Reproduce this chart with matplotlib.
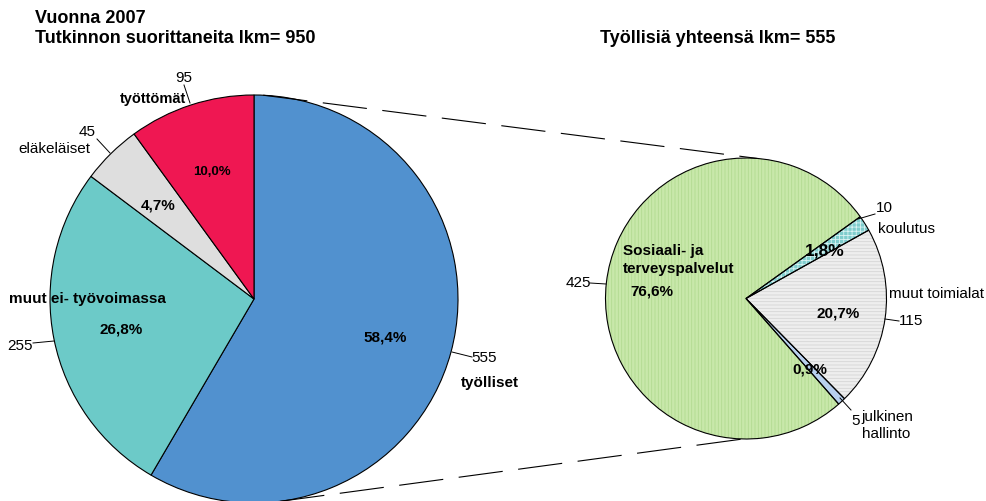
import numpy as np
import matplotlib
matplotlib.use('Agg')
import matplotlib.pyplot as plt

plt.rcParams['font.family'] = ['Liberation Sans', 'DejaVu Sans']
plt.rcParams['hatch.linewidth'] = 0.6

# left pie: all graduates
main_labels = ['työlliset', 'muut ei- työvoimassa', 'eläkeläiset', 'työttömät']
main_values = [555, 255, 45, 95]
main_colors = ['#5191CF', '#6CCAC8', '#DEDEDE', '#EF1752']

# right pie: employed by sector
sub_labels = ['koulutus', 'muut toimialat', 'julkinen\nhallinto', 'Sosiaali- ja\nterveyspalvelut']
sub_values = [10, 115, 5, 425]
sub_colors = ['#7FCDCD', '#EEEEEE', '#B8D0EE', '#C8E8AA']
sub_hatch_colors = ['#D8F2F2', '#D6D6D6', '#B8D0EE', '#B2DA92']
sub_hatches = ['++++', '-----', None, '|||||']

W, H = 987, 501


def py(y):
    # pixel row (from top) -> data y
    return H - y


def pct(v, total):
    return f"{v / total * 100:.1f}".replace('.', ',') + '%'


fig = plt.figure(figsize=(W / 100, H / 100), dpi=100)
ax = fig.add_axes([0, 0, 1, 1])

c1, r1 = (254, py(299)), 204
c2, r2 = (746, py(298.5)), 140.5

# left pie
ax.pie(main_values, colors=main_colors, startangle=90, counterclock=False,
       center=c1, radius=r1, wedgeprops=dict(edgecolor='black', linewidth=0.8))

# right pie: hatched fills, then outlines
wedges, _ = ax.pie(sub_values, colors=sub_colors, startangle=35.6, counterclock=False,
                   center=c2, radius=r2, wedgeprops=dict(linewidth=0))
for w, hc, h in zip(wedges, sub_hatch_colors, sub_hatches):
    w.set_edgecolor(hc)
    if h:
        w.set_hatch(h)
ax.pie(sub_values, colors=['none'] * len(sub_values), startangle=35.6, counterclock=False,
       center=c2, radius=r2, wedgeprops=dict(edgecolor='black', linewidth=0.8))


# dashed connectors between the pies
def on_circle(c, r, deg):
    a = np.deg2rad(deg)
    return c[0] + r * np.cos(a), c[1] + r * np.sin(a)


for a1, a2 in [(87.4, 85.4), (-82.6, -91.2)]:
    p1 = on_circle(c1, r1, a1)
    p2 = on_circle(c2, r2, a2)
    ax.plot([p1[0], p2[0]], [p1[1], p2[1]], color='black', lw=0.8,
            linestyle=(0, (40, 14)))

ax.set_xlim(0, W)
ax.set_ylim(0, H)
ax.set_aspect('equal')
ax.axis('off')

# titles
ax.text(35, py(23), 'Vuonna 2007', fontsize=13, fontweight='bold', va='baseline')
ax.text(35, py(43), f'Tutkinnon suorittaneita lkm= {sum(main_values)}', fontsize=13,
        fontweight='bold', va='baseline')
ax.text(718, py(43), f'Työllisiä yhteensä lkm= {sum(sub_values)}', fontsize=13,
        fontweight='bold', va='baseline', ha='center')

tot1 = sum(main_values)
tot2 = sum(sub_values)


def t(x, y, s, size=11, bold=False, ha='center'):
    ax.text(x, py(y), s, fontsize=size, fontweight='bold' if bold else 'normal',
            ha=ha, va='baseline')


def leader(x0, y0, x1, y1):
    ax.plot([x0, x1], [py(y0), py(y1)], color='black', lw=0.7)


# left pie labels
t(385, 341, pct(main_values[0], tot1), bold=True)
t(484, 362, str(main_values[0]))
t(490, 387, main_labels[0], bold=True)
leader(452, 352, 472, 357)

t(121, 333, pct(main_values[1], tot1), bold=True)
t(9, 303, main_labels[1], bold=True, ha='left')
t(20.5, 350, str(main_values[1]))
leader(33, 343, 54, 341)

t(158, 209, pct(main_values[2], tot1), bold=True)
t(87.5, 136, str(main_values[2]))
t(54, 153, main_labels[2])
leader(97, 139, 110, 153)

t(212, 175, pct(main_values[3], tot1), size=9.5, bold=True)
t(183.5, 82, str(main_values[3]))
t(153.5, 103, main_labels[3], size=10.5, bold=True)
leader(184, 85, 190, 103)

# right pie labels
t(825, 255, pct(sub_values[0], tot2), size=12.5, bold=True)
t(884, 212, str(sub_values[0]))
t(878, 233, sub_labels[0], ha='left')
leader(858, 219, 875, 214)

t(838.5, 318, pct(sub_values[1], tot2), bold=True)
t(889, 298, sub_labels[1], ha='left')
t(911, 325, str(sub_values[1]))
leader(885, 319, 899, 321)

t(809.5, 374, pct(sub_values[2], tot2), bold=True)
t(855.5, 425, str(sub_values[2]))
jl = sub_labels[2].split('\n')
t(887, 421, jl[0])
t(886, 438, jl[1])
leader(840, 398, 851, 410)

sl = sub_labels[3].split('\n')
t(623, 255, sl[0], bold=True, ha='left')
t(623, 273, sl[1], bold=True, ha='left')
t(652, 295, pct(sub_values[3], tot2), bold=True)
t(578.5, 287, str(sub_values[3]))
leader(590, 283, 606, 284)

fig.savefig('out.png', dpi=100)
